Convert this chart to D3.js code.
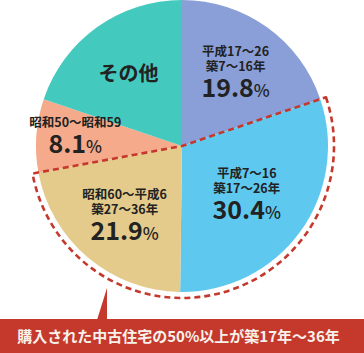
<!DOCTYPE html>
<html>
<head>
<meta charset="utf-8">
<script src="https://cdn.jsdelivr.net/npm/d3@7/dist/d3.min.js"></script>
<style>
  html, body { margin: 0; padding: 0; background: #fff; }
  svg { display: block; font-family: "Noto Sans CJK JP", "Noto Sans", sans-serif; }
</style>
</head>
<body>
<div id="chart"></div>
<script>
// slices, clockwise from 12 o'clock
var periods = ["平成17～26", "平成7～16", "昭和60～平成6", "昭和50～昭和59", "その他"];
var ages = ["築7～16年", "築17～26年", "築27～36年", "", ""];
var shares = [19.8, 30.4, 21.9, 8.1, 19.8];
var colors = ["#8a9fd7", "#5ec8ef", "#e4cb8b", "#f4aa8b", "#44c9bf"];
var highlighted = [1, 2];
var message = "購入された中古住宅の50%以上が築17年～36年";

var width = 364, height = 353;
var cx = 182, cy = 146, radius = 146;
var labelR = [92, 80, 89, 107, 92];
var red = "#c5392d";

var svg = d3.select("#chart").append("svg")
    .attr("width", width)
    .attr("height", height);

var g = svg.append("g")
    .attr("transform", "translate(" + cx + "," + cy + ")");

var pie = d3.pie().sort(null).value(function(d) { return d; });
var arcs = pie(shares);

var arc = d3.arc().innerRadius(0).outerRadius(radius);

g.selectAll("path.slice")
  .data(arcs)
  .enter()
  .append("path")
    .attr("class", "slice")
    .attr("d", arc)
    .attr("fill", function(d, i) { return colors[i]; });

// dashed outline around the highlighted slices
var outline = d3.arc()
    .innerRadius(0)
    .outerRadius(radius + 6)
    .startAngle(arcs[highlighted[0]].startAngle)
    .endAngle(arcs[highlighted[highlighted.length - 1]].endAngle);

g.append("path")
    .attr("d", outline())
    .attr("fill", "none")
    .attr("stroke", red)
    .attr("stroke-width", 2.6)
    .attr("stroke-dasharray", "6,4")
    .attr("stroke-linejoin", "round");

// labels
arcs.forEach(function(d, i) {
    var c = d3.arc().innerRadius(labelR[i]).outerRadius(labelR[i]).centroid(d);
    var t = g.append("g").attr("transform", "translate(" + c[0] + "," + c[1] + ")");

    if (periods[i] === "その他") {
        t.append("text")
            .attr("text-anchor", "middle")
            .attr("y", 10)
            .attr("font-size", 20)
            .attr("font-weight", 700)
            .attr("fill", "#222")
            .text(periods[i]);
        return;
    }

    var lines = ages[i] ? [periods[i], ages[i]] : [periods[i]];
    var top = ages[i] ? -15 : -11;
    lines.forEach(function(s, k) {
        t.append("text")
            .attr("text-anchor", "middle")
            .attr("y", top + k * 15)
            .attr("font-size", 12.5)
            .attr("font-weight", 700)
            .attr("fill", "#222")
            .text(s);
    });

    var big = t.append("text")
        .attr("text-anchor", "middle")
        .attr("y", top + (lines.length - 1) * 15 + 26)
        .attr("fill", "#222");
    big.append("tspan")
        .attr("font-size", 25)
        .attr("font-weight", 700)
        .text(shares[i].toFixed(1));
    big.append("tspan")
        .attr("font-size", 17)
        .attr("font-weight", 500)
        .text("%");
});

// banner with pointer
var bannerTop = 319;
svg.append("rect")
    .attr("x", 0)
    .attr("y", bannerTop)
    .attr("width", width)
    .attr("height", height - bannerTop)
    .attr("fill", red);

svg.append("path")
    .attr("d", "M97," + (bannerTop + 1) + " L107,288 L107," + (bannerTop + 1) + " Z")
    .attr("fill", red);

svg.append("text")
    .attr("x", 178.5)
    .attr("y", 342)
    .attr("text-anchor", "middle")
    .attr("font-size", 15)
    .attr("font-weight", 700)
    .attr("fill", "#f7f1ec")
    .text(message);
</script>
</body>
</html>
